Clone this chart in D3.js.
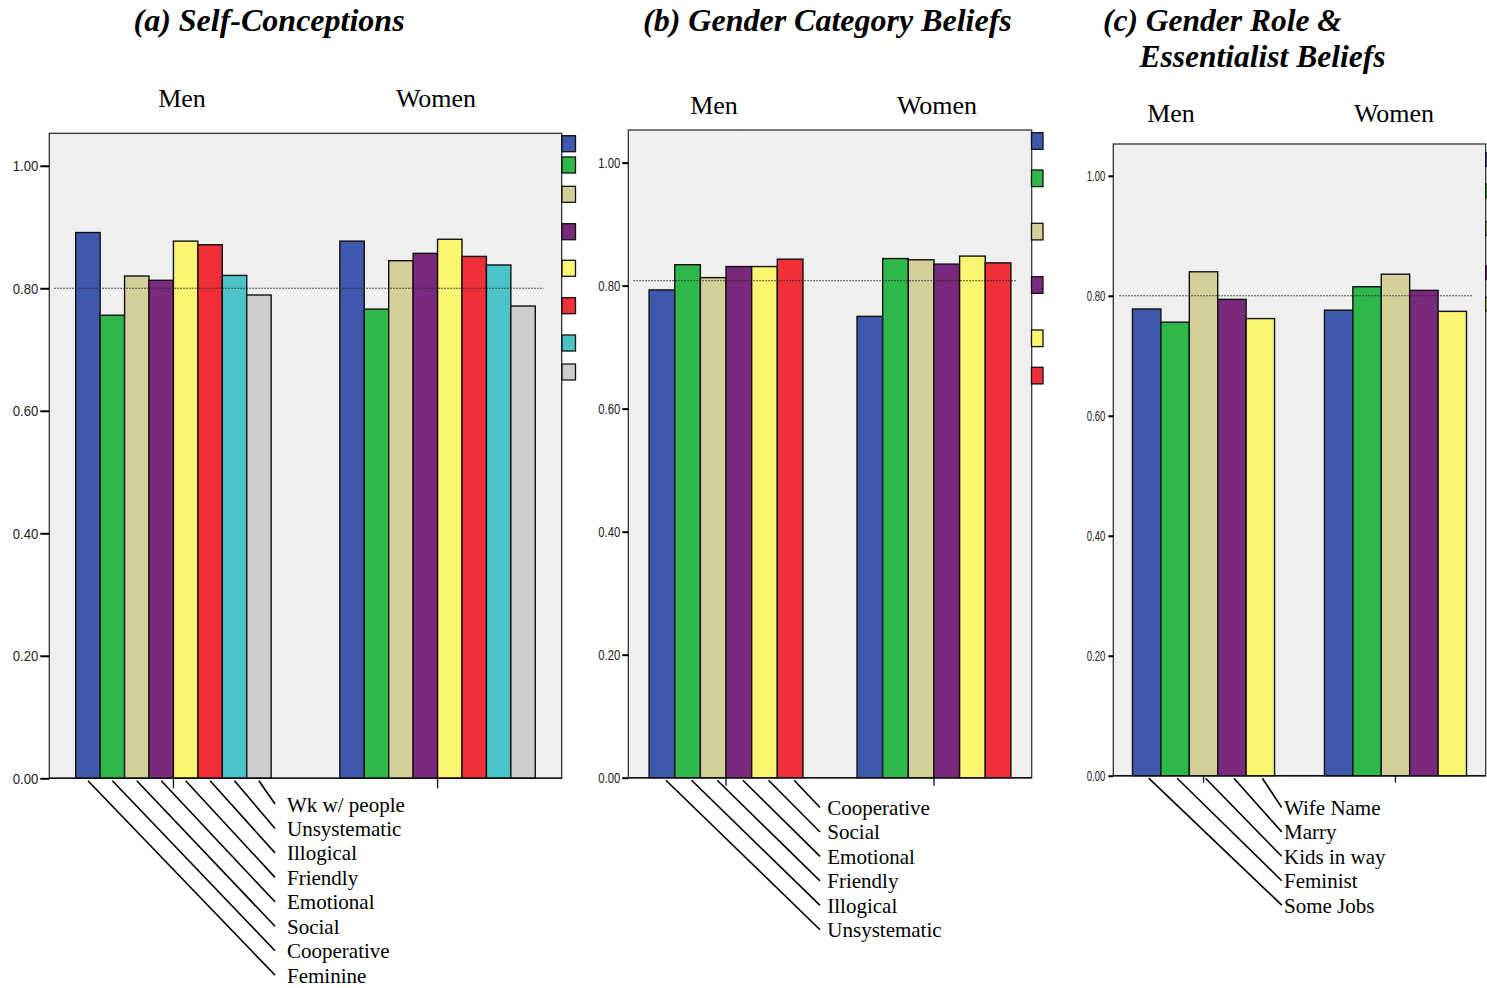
<!DOCTYPE html>
<html>
<head>
<meta charset="utf-8">
<script src="https://cdn.jsdelivr.net/npm/d3@7"></script>
<style>
  html, body { margin: 0; padding: 0; background: #fff; }
  svg { display: block; }
</style>
</head>
<body>
<svg id="chart" width="1487" height="988"></svg>
<script>
// Groups shared by all three panels
const groups = ["Men", "Women"];
const yTicks = [0, 0.2, 0.4, 0.6, 0.8, 1.0];

// (a) Self-Conceptions
const selfSeries = ["Feminine", "Cooperative", "Social", "Emotional", "Friendly", "Illogical", "Unsystematic", "Wk w/ people"];
const selfMen    = [0.891, 0.756, 0.820, 0.813, 0.877, 0.871, 0.821, 0.789];
const selfWomen  = [0.877, 0.766, 0.845, 0.857, 0.880, 0.852, 0.838, 0.771];
const selfRef = 0.80;

// (b) Gender Category Beliefs
const categorySeries = ["Unsystematic", "Illogical", "Friendly", "Emotional", "Social", "Cooperative"];
const categoryMen    = [0.793, 0.834, 0.813, 0.831, 0.831, 0.843];
const categoryWomen  = [0.750, 0.844, 0.842, 0.835, 0.848, 0.837];
const categoryRef = 0.808;

// (c) Gender Role & Essentialist Beliefs
const roleSeries = ["Some Jobs", "Feminist", "Kids in way", "Marry", "Wife Name"];
const roleMen    = [0.778, 0.756, 0.840, 0.794, 0.762];
const roleWomen  = [0.776, 0.815, 0.836, 0.809, 0.774];
const roleRef = 0.80;

// Fill colours, in series order
const palette = ["#3d58ad", "#2eb84b", "#d4cf98", "#7a2a7d", "#faf672", "#ef3039", "#49c3c7", "#cdcdcd"];

const serif = "'Liberation Serif', 'Times New Roman', Times, serif";
const sans = "'Liberation Sans', Arial, Helvetica, sans-serif";

const svg = d3.select("#chart");

// Panel layout
const panels = [
  {
    title: ["(a) Self-Conceptions"], titleX: [133.5], titleY: [31], titleSize: 32,
    series: selfSeries, men: selfMen, women: selfWomen, ref: selfRef,
    left: 49.3, right: 561.7, top: 133.3, bottom: 778.3,
    headX: [182, 436], headY: 107,
    tickLen: 9, tickLabelSize: 15, tickLabelW: 25.5, tickGap: 11,
    legendX: 562, legendW: 13.5, legendH: 16,
    legendY: [135.7, 157, 186.3, 223.7, 260.3, 297.7, 335, 364],
    refX0: 5, refX1: 18,
    labelX: 287, labelY0: 811.5, labelStep: 24.45, lineEndX: 275, lineDx: 0, catTick: 10
  },
  {
    title: ["(b) Gender Category Beliefs"], titleX: [643], titleY: [31], titleSize: 32,
    series: categorySeries, men: categoryMen, women: categoryWomen, ref: categoryRef,
    left: 628.3, right: 1031.7, top: 130, bottom: 777.7,
    headX: [714, 937], headY: 114,
    tickLen: 6, tickLabelSize: 14, tickLabelW: 22, tickGap: 8,
    legendX: 1031.5, legendW: 11.5, legendH: 16.6,
    legendY: [132.7, 170, 223.3, 276.7, 330, 367.3],
    refX0: 5, refX1: 15.5,
    labelX: 827.3, labelY0: 815, labelStep: 24.46, lineEndX: 820, lineDx: 4, catTick: 8
  },
  {
    title: ["(c) Gender Role &", "Essentialist Beliefs"], titleX: [1103, 1139.5], titleY: [31, 67], titleSize: 31.5,
    series: roleSeries, men: roleMen, women: roleWomen, ref: roleRef,
    left: 1113.3, right: 1485.7, top: 144, bottom: 775.7,
    headX: [1171, 1394], headY: 122,
    tickLen: 5, tickLabelSize: 14, tickLabelW: 18.6, tickGap: 8,
    legendX: 1485.7, legendW: 12, legendH: 13.5,
    legendY: [152.7, 184, 221.7, 266, 297.3],
    refX0: 6, refX1: 13,
    labelX: 1284, labelY0: 815, labelStep: 24.4, lineEndX: 1281.7, lineDx: 2, catTick: 7
  }
];

panels.forEach(p => {
  const g = svg.append("g");

  const y = d3.scaleLinear().domain([0, 1.053]).range([p.bottom, p.top]);
  const x0 = d3.scaleBand().domain(groups).range([p.left, p.right])
    .paddingInner(0.26).paddingOuter(0.1);
  const x1 = d3.scaleBand().domain(p.series).range([0, x0.bandwidth()]);

  // Titles
  p.title.forEach((t, i) => {
    g.append("text")
      .attr("x", p.titleX[i]).attr("y", p.titleY[i])
      .attr("font-family", serif).attr("font-size", p.titleSize)
      .attr("font-weight", "bold").attr("font-style", "italic")
      .attr("fill", "#000").text(t);
  });

  // Group headings
  groups.forEach((grp, i) => {
    g.append("text")
      .attr("x", p.headX[i]).attr("y", p.headY)
      .attr("text-anchor", "middle")
      .attr("font-family", serif).attr("font-size", 26)
      .attr("fill", "#000").text(grp);
  });

  // Plot background
  g.append("rect")
    .attr("x", p.left).attr("y", p.top)
    .attr("width", p.right - p.left).attr("height", p.bottom - p.top)
    .attr("fill", "#efefef");

  // Bars
  const rows = groups.map((grp, gi) => ({
    group: grp,
    values: (gi === 0 ? p.men : p.women).map((v, si) => ({ key: p.series[si], idx: si, value: v }))
  }));

  const barG = g.selectAll(".grp").data(rows).join("g")
    .attr("transform", d => `translate(${x0(d.group)},0)`);
  barG.selectAll("rect").data(d => d.values).join("rect")
    .attr("x", d => x1(d.key))
    .attr("y", d => y(d.value))
    .attr("width", x1.bandwidth())
    .attr("height", d => y(0) - y(d.value))
    .attr("fill", d => palette[d.idx])
    .attr("stroke", "#111").attr("stroke-width", 1.4);

  // Reference line
  g.append("line")
    .attr("x1", p.left + p.refX0).attr("x2", p.right - p.refX1)
    .attr("y1", y(p.ref)).attr("y2", y(p.ref))
    .attr("stroke", "#222").attr("stroke-width", 1)
    .attr("stroke-dasharray", "1.5,1.5");

  // Frame
  g.append("rect")
    .attr("x", p.left).attr("y", p.top)
    .attr("width", p.right - p.left).attr("height", p.bottom - p.top)
    .attr("fill", "none").attr("stroke", "#333").attr("stroke-width", 1.3);

  // Y axis
  const yAxis = d3.axisLeft(y).tickValues(yTicks).tickFormat(d3.format(".2f"))
    .tickSize(p.tickLen).tickPadding(2);
  const ya = g.append("g").attr("transform", `translate(${p.left},0)`).call(yAxis);
  ya.select(".domain").remove();
  ya.selectAll(".tick line").attr("stroke", "#000").attr("stroke-width", 2);
  ya.selectAll(".tick text")
    .attr("x", -p.tickGap)
    .attr("font-family", sans).attr("font-size", p.tickLabelSize)
    .attr("fill", "#222")
    .attr("textLength", p.tickLabelW).attr("lengthAdjust", "spacingAndGlyphs");

  // Category ticks under the axis
  const xAxis = d3.axisBottom(x0).tickSize(p.catTick).tickFormat("");
  const xa = g.append("g").attr("transform", `translate(0,${p.bottom})`).call(xAxis);
  xa.select(".domain").remove();
  xa.selectAll(".tick line").attr("stroke", "#111").attr("stroke-width", 1.3);
  g.append("line")
    .attr("x1", p.left).attr("x2", p.right)
    .attr("y1", p.bottom).attr("y2", p.bottom)
    .attr("stroke", "#111").attr("stroke-width", 1.5);

  // Legend swatches
  p.series.forEach((s, i) => {
    g.append("rect")
      .attr("x", p.legendX).attr("y", p.legendY[i])
      .attr("width", p.legendW).attr("height", p.legendH)
      .attr("fill", palette[i]).attr("stroke", "#111").attr("stroke-width", 1.3);
  });

  // Leader lines and series labels (last series on top)
  const n = p.series.length;
  p.series.forEach((s, i) => {
    const row = n - 1 - i;
    const baseline = p.labelY0 + row * p.labelStep;
    const sx = x0("Men") + x1(s) + x1.bandwidth() / 2 + p.lineDx;
    g.append("line")
      .attr("x1", sx).attr("y1", p.bottom + 2.5)
      .attr("x2", p.lineEndX).attr("y2", baseline - 7.5)
      .attr("stroke", "#000").attr("stroke-width", 1.6);
    g.append("text")
      .attr("x", p.labelX).attr("y", baseline)
      .attr("font-family", serif).attr("font-size", 21)
      .attr("fill", "#000").text(s);
  });
});
</script>
</body>
</html>
